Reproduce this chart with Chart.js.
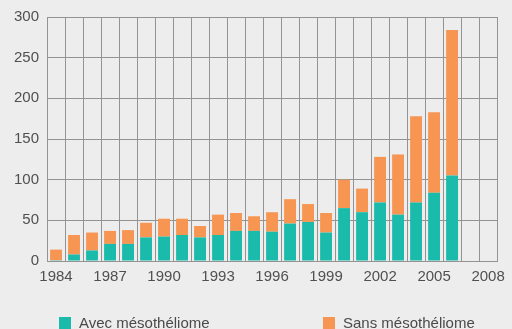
<!DOCTYPE html>
<html>
<head>
<meta charset="utf-8">
<script src="https://cdn.jsdelivr.net/npm/chart.js@4"></script>
<style>
    html, body {
        margin: 0;
        padding: 0;
        background: #ededed;
        overflow: hidden;
    }
    #wrap {
        position: relative;
        width: 512px;
        height: 329px;
    }
    #legend .box {
        position: absolute;
        width: 12px;
        height: 12px;
        top: 317px;
    }
    #legend .txt {
        position: absolute;
        top: 315px;
        font-family: "Liberation Sans", Arial, sans-serif;
        font-size: 15px;
        line-height: 15px;
        color: #4a4a4a;
        white-space: nowrap;
    }
</style>
</head>
<body>
<div id="wrap">
    <canvas id="casesChart" width="512" height="329"></canvas>
    <div id="legend"></div>
</div>
<script>

// Years on the axis (last two have no bars yet)
const years = [];
for (let y = 1984; y <= 2008; y++) years.push(String(y));

// Cases with mesothelioma, per year
const avecMeso = [1, 8, 13, 21, 21, 29, 30, 32, 29, 32, 37, 37, 36, 46, 48, 35,
    65, 60, 72, 57, 72, 84, 105, null, null];

// Cases without mesothelioma, per year
const sansMeso = [13, 24, 22, 16, 17, 18, 22, 20, 14, 25, 22, 18, 24, 30, 22, 24,
    35, 29, 56, 74, 106, 99, 179, null, null];

const seriesLabels = ['Avec mésothéliome', 'Sans mésothéliome'];
const seriesColors = ['#1bbbab', '#f79552'];
const legendX = [59, 323];

const gridColor = '#939393';
const textColor = '#505050';


function buildLegend() {

    // Legend sits under the chart, one square + label per series

    const legend = document.getElementById('legend');
    for (let i = 0; i < seriesLabels.length; i++) {
        const box = document.createElement('div');
        box.className = 'box';
        box.style.left = legendX[i] + 'px';
        box.style.background = seriesColors[i];
        legend.appendChild(box);

        const txt = document.createElement('div');
        txt.className = 'txt';
        txt.style.left = (legendX[i] + 20) + 'px';
        txt.textContent = seriesLabels[i];
        legend.appendChild(txt);
    }
}


function drawChart() {
    const ctx = document.getElementById('casesChart').getContext('2d');

    new Chart(ctx, {
        type: 'bar',
        data: {
            labels: years,
            datasets: [{
                label: seriesLabels[0],
                data: avecMeso,
                backgroundColor: seriesColors[0]
            }, {
                label: seriesLabels[1],
                data: sansMeso,
                backgroundColor: seriesColors[1]
            }]
        },
        options: {
            responsive: false,
            animation: false,
            barPercentage: 0.66,
            categoryPercentage: 1,
            layout: {
                padding: { left: 6, right: 12, top: 7, bottom: 36 }
            },
            plugins: {
                legend: { display: false },
                tooltip: { enabled: false }
            },
            scales: {
                x: {
                    stacked: true,
                    grid: {
                        color: gridColor,
                        offset: true,
                        drawTicks: false
                    },
                    border: { color: gridColor },
                    ticks: {
                        autoSkip: false,
                        maxRotation: 0,
                        padding: 7,
                        color: textColor,
                        font: { family: 'Liberation Sans', size: 15 },
                        callback: function (value, index) {
                            return index % 3 === 0 ? this.getLabelForValue(value) : '';
                        }
                    }
                },
                y: {
                    stacked: true,
                    min: 0,
                    max: 300,
                    grid: {
                        color: gridColor,
                        drawTicks: false
                    },
                    border: { color: gridColor },
                    ticks: {
                        stepSize: 50,
                        padding: 8,
                        color: textColor,
                        font: { family: 'Liberation Sans', size: 15 }
                    }
                }
            }
        }
    });
}


document.addEventListener('DOMContentLoaded', () => {
    buildLegend();
    drawChart();
});
</script>
</body>
</html>
